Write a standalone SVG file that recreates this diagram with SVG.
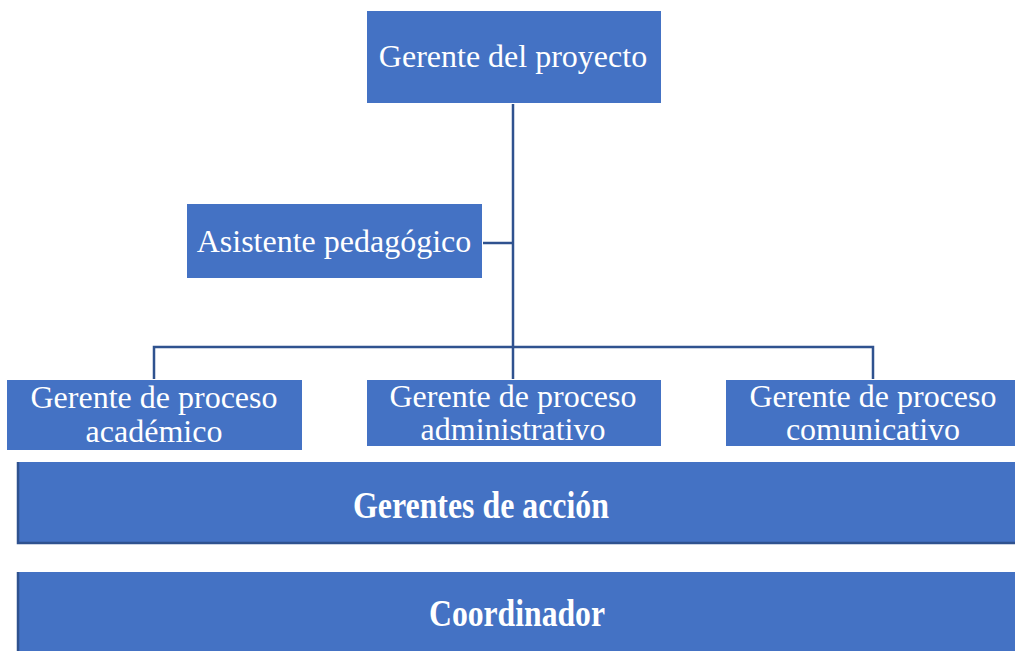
<svg xmlns="http://www.w3.org/2000/svg" width="1015" height="651" viewBox="0 0 1015 651">
<style>
.box{fill:#4472C4;stroke:#ffffff;stroke-width:1}
.bar{fill:#4472C4}
.edge{fill:none;stroke:#2F528F;stroke-width:2.5}
.t{font-family:"Liberation Serif","Times New Roman",serif;font-size:32px;fill:#ffffff;text-anchor:middle}
.b{font-family:"Liberation Serif","Times New Roman",serif;font-size:37px;font-weight:bold;fill:#ffffff;text-anchor:middle}
.c{fill:none;stroke:#2F528F;stroke-width:2.5}
</style>
<rect width="1015" height="651" fill="#ffffff"/>
<g id="connectors">
<path class="c" d="M513,103 V347"/>
<path class="c" d="M482,243 H513"/>
<path class="c" d="M154,380 V347 H873 V380"/>
<path class="c" d="M513,347 V380"/>
</g>
<g id="gerente-proyecto">
<rect class="box" x="366.5" y="10.5" width="295" height="93"/>
<text class="t" x="513" y="67">Gerente del proyecto</text>
</g>
<g id="asistente">
<rect class="box" x="186.5" y="203.5" width="296" height="75"/>
<text class="t" x="334" y="252">Asistente pedagógico</text>
</g>
<g id="academico">
<rect class="box" x="6.5" y="379.5" width="296" height="71"/>
<text class="t" x="154" y="408">Gerente de proceso</text>
<text class="t" x="154" y="442">académico</text>
</g>
<g id="administrativo">
<rect class="box" x="366.5" y="379.5" width="295" height="67"/>
<text class="t" x="513" y="407">Gerente de proceso</text>
<text class="t" x="513" y="440">administrativo</text>
</g>
<g id="comunicativo">
<rect class="box" x="725.5" y="379.5" width="295" height="67"/>
<text class="t" x="873" y="407">Gerente de proceso</text>
<text class="t" x="873" y="440">comunicativo</text>
</g>
<g id="gerentes-accion">
<rect class="bar" x="17" y="462" width="1005" height="82"/>
<path class="edge" d="M18,462 V543 H1015"/>
<text class="b" x="481" y="518" textLength="256" lengthAdjust="spacingAndGlyphs">Gerentes de acción</text>
</g>
<g id="coordinador">
<rect class="bar" x="17" y="572" width="1005" height="85"/>
<path class="edge" d="M18,572 V660"/>
<text class="b" x="517" y="626" textLength="176" lengthAdjust="spacingAndGlyphs">Coordinador</text>
</g>
</svg>
